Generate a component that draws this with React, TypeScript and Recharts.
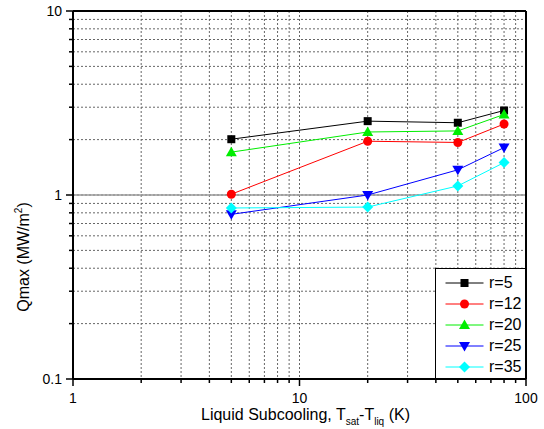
import React from 'react';
import { LineChart, Line, XAxis, YAxis, CartesianGrid, ReferenceLine, Legend } from 'recharts';

const FONT = '"Liberation Sans", Arial, sans-serif';

// Data
const subcooling = [5, 20, 50, 80];
const r5 = [2.01, 2.52, 2.47, 2.88];
const r12 = [1.01, 1.96, 1.93, 2.43];
const r20 = [1.71, 2.2, 2.23, 2.74];
const r25 = [0.785, 1.0, 1.37, 1.81];
const r35 = [0.85, 0.86, 1.12, 1.5];

const seriesNames = ['r=5', 'r=12', 'r=20', 'r=25', 'r=35'];
const seriesKeys = ['r5', 'r12', 'r20', 'r25', 'r35'];
const seriesValues = [r5, r12, r20, r25, r35];
const seriesColors = ['#000000', '#ff0000', '#00ee00', '#0000ff', '#00ffff'];
const seriesShapes = ['square', 'circle', 'triangle', 'triangleDown', 'diamond'];

const xTicks = [1, 2, 3, 4, 5, 6, 7, 8, 9, 10, 20, 30, 40, 50, 60, 70, 80, 90, 100];
const xMajorTicks = [1, 10, 100];
const yTicks = [0.1, 0.2, 0.3, 0.4, 0.5, 0.6, 0.7, 0.8, 0.9, 1, 2, 3, 4, 5, 6, 7, 8, 9, 10];
const yMajorTicks = [0.1, 1, 10];
const yMajorLabels = ['0.1', '1', '10'];

const data = subcooling.map((x, i) => {
  const row: Record<string, number> = { x };
  seriesKeys.forEach((k, j) => {
    row[k] = seriesValues[j][i];
  });
  return row;
});

const Marker = ({ shape, cx, cy, color }: { shape: string; cx: number; cy: number; color: string }) => {
  switch (shape) {
    case 'square':
      return <rect x={cx - 4} y={cy - 4} width={8} height={8} fill={color} />;
    case 'circle':
      return <circle cx={cx} cy={cy} r={4.5} fill={color} />;
    case 'triangle':
      return <polygon points={`${cx},${cy - 5.5} ${cx + 5.5},${cy + 4} ${cx - 5.5},${cy + 4}`} fill={color} />;
    case 'triangleDown':
      return <polygon points={`${cx - 5.5},${cy - 4} ${cx + 5.5},${cy - 4} ${cx},${cy + 5.5}`} fill={color} />;
    case 'diamond':
      return <polygon points={`${cx},${cy - 5.5} ${cx + 5.5},${cy} ${cx},${cy + 5.5} ${cx - 5.5},${cy}`} fill={color} />;
    default:
      return null;
  }
};

const XTick = (props: any) => {
  const { x, y, payload } = props;
  const v = payload.value;
  const idx = xMajorTicks.indexOf(v);
  const major = idx >= 0;
  return (
    <g>
      <line x1={x} y1={y} x2={x} y2={y + (major ? 7 : 4)} stroke="#000" strokeWidth={1.5} />
      {major && (
        <text x={x} y={y + 24} textAnchor="middle" fontSize={14} fontFamily={FONT} fill="#000">
          {String(v)}
        </text>
      )}
    </g>
  );
};

const YTick = (props: any) => {
  const { x, y, payload } = props;
  const v = payload.value;
  const idx = yMajorTicks.findIndex((t) => Math.abs(t - v) < 1e-9);
  const major = idx >= 0;
  return (
    <g>
      <line x1={x - (major ? 7 : 4)} y1={y} x2={x} y2={y} stroke="#000" strokeWidth={1.5} />
      {major && (
        <text x={x - 11} y={y + 5} textAnchor="end" fontSize={14} fontFamily={FONT} fill="#000">
          {yMajorLabels[idx]}
        </text>
      )}
    </g>
  );
};

const XTitle = (props: any) => {
  const vb = props.viewBox || { x: 0, y: 0, width: 0, height: 0 };
  const cx = vb.x + vb.width / 2 + 6;
  const y = vb.y + 41;
  return (
    <text x={cx} y={y} textAnchor="middle" fontSize={16} fontFamily={FONT} fill="#000">
      <tspan>Liquid Subcooling, T</tspan>
      <tspan fontSize={10} dy={5}>sat</tspan>
      <tspan dy={-5}>-T</tspan>
      <tspan fontSize={10} dy={5}>liq</tspan>
      <tspan dy={-5}> (K)</tspan>
    </text>
  );
};

const YTitle = (props: any) => {
  const vb = props.viewBox || { x: 0, y: 0, width: 0, height: 0 };
  const x = vb.x + 29;
  const y = vb.y + vb.height / 2 + 62;
  return (
    <text
      x={x}
      y={y}
      textAnchor="middle"
      fontSize={16}
      fontFamily={FONT}
      fill="#000"
      transform={`rotate(-90, ${x}, ${y})`}
    >
      <tspan>Qmax (MW/m</tspan>
      <tspan fontSize={10} dy={-7}>2</tspan>
      <tspan dy={7}>)</tspan>
    </text>
  );
};

const LegendBox = () => (
  <div
    style={{
      width: 91,
      height: 111,
      border: '1px solid #000',
      background: '#fff',
      boxSizing: 'border-box',
      fontFamily: FONT,
      fontSize: 16,
      paddingTop: 4,
    }}
  >
    {seriesNames.map((name, i) => (
      <div key={name} style={{ display: 'flex', alignItems: 'center', height: 20.8 }}>
        <svg width={50} height={20} style={{ display: 'block' }}>
          <line x1={9.5} y1={10} x2={47.5} y2={10} stroke={seriesColors[i]} strokeWidth={1} />
          <Marker shape={seriesShapes[i]} cx={28.5} cy={10} color={seriesColors[i]} />
        </svg>
        <span style={{ marginLeft: 3, lineHeight: '20px', color: '#000' }}>{name}</span>
      </div>
    ))}
  </div>
);

export default function App() {
  return (
    <div style={{ position: 'absolute', left: 0, top: 0, width: 544, height: 429, background: '#fff' }}>
      <LineChart
        width={544}
        height={429}
        data={data}
        margin={{ top: 11, right: 18, bottom: 0, left: 0 }}
        style={{ fontFamily: FONT }}
      >
        <CartesianGrid stroke="#666" strokeDasharray="2 2" strokeWidth={1} />
        <XAxis
          dataKey="x"
          type="number"
          scale="log"
          domain={[1, 100]}
          ticks={xTicks}
          interval={0}
          allowDataOverflow
          height={50}
          tickSize={0}
          tickMargin={0}
          tickLine={false}
          tick={<XTick />}
          axisLine={{ stroke: '#000', strokeWidth: 2 }}
          label={<XTitle />}
        />
        <YAxis
          type="number"
          scale="log"
          domain={[0.1, 10]}
          ticks={yTicks}
          interval={0}
          allowDataOverflow
          width={73}
          tickSize={0}
          tickMargin={0}
          tickLine={false}
          tick={<YTick />}
          axisLine={{ stroke: '#000', strokeWidth: 2 }}
          label={<YTitle />}
        />
        <ReferenceLine y={1} stroke="#999" strokeWidth={1.5} />
        <ReferenceLine y={10} stroke="#000" strokeWidth={2} />
        <ReferenceLine x={100} stroke="#000" strokeWidth={2} />
        {seriesKeys.map((k, i) => (
          <Line
            key={k}
            dataKey={k}
            name={seriesNames[i]}
            stroke={seriesColors[i]}
            strokeWidth={1}
            isAnimationActive={false}
            dot={(p: any) => (
              <Marker key={`${k}-${p.index}`} shape={seriesShapes[i]} cx={p.cx} cy={p.cy} color={seriesColors[i]} />
            )}
            activeDot={false}
          />
        ))}
        <Legend
          layout="vertical"
          align="center"
          verticalAlign="middle"
          content={<LegendBox />}
          wrapperStyle={{ position: 'absolute', left: 435, top: 268, width: 91, height: 111 }}
        />
      </LineChart>
    </div>
  );
}
